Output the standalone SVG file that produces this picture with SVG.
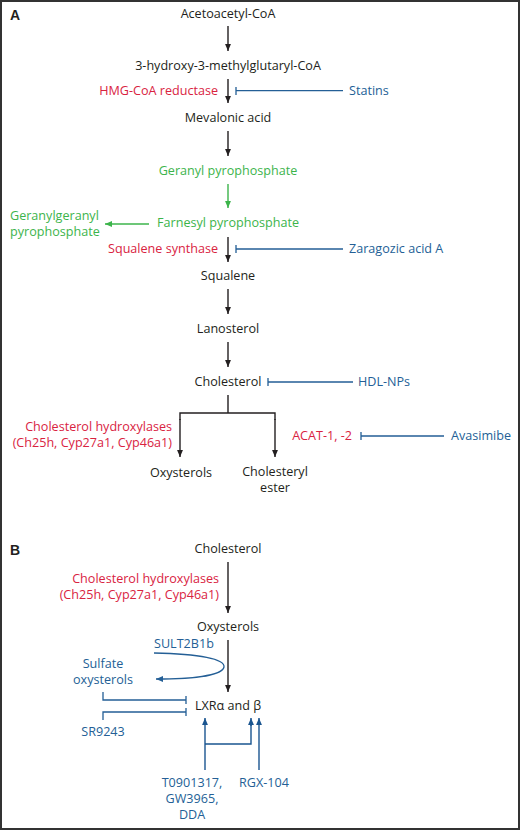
<svg xmlns="http://www.w3.org/2000/svg" width="520" height="830" viewBox="0 0 520 830">
<style>
text{font-family:"Open Sans","Liberation Sans",sans-serif;font-size:12.6px;fill:#231f20}
.c{text-anchor:middle}.e{text-anchor:end}
.r{fill:#d9233f}.g{fill:#3cb44b}.b{fill:#245f96}
.lbl{font-weight:bold;font-size:14px;font-family:"Liberation Sans",sans-serif}
.k{stroke:#231f20;stroke-width:1.4;fill:none}
.gl{stroke:#3cb44b;stroke-width:1.4;fill:none}
.bl{stroke:#245f96;stroke-width:1.3;fill:none}
.bd{stroke:#1a5590;stroke-width:1.4;fill:none}
</style>
<defs>
<marker id="ak" viewBox="0 0 10 10" refX="10" refY="5" markerWidth="7" markerHeight="7" markerUnits="userSpaceOnUse" orient="auto"><path d="M0,0.8L10,5L0,9.2z" fill="#231f20"/></marker>
<marker id="ag" viewBox="0 0 10 10" refX="10" refY="5" markerWidth="7" markerHeight="7" markerUnits="userSpaceOnUse" orient="auto"><path d="M0,0.8L10,5L0,9.2z" fill="#3cb44b"/></marker>
<marker id="ab" viewBox="0 0 10 10" refX="10" refY="5" markerWidth="7" markerHeight="7" markerUnits="userSpaceOnUse" orient="auto"><path d="M0,0.8L10,5L0,9.2z" fill="#245f96"/></marker>
<marker id="abd" viewBox="0 0 10 10" refX="10" refY="5" markerWidth="7" markerHeight="7" markerUnits="userSpaceOnUse" orient="auto"><path d="M0,0.8L10,5L0,9.2z" fill="#1a5590"/></marker>
</defs>
<rect x="1" y="1" width="518" height="828" fill="#fff" stroke="#333" stroke-width="2"/>
<text class="lbl" x="10" y="20">A</text>
<text class="lbl" x="10" y="555">B</text>

<g id="connectors">
<line class="k" x1="228" y1="26" x2="228" y2="51" marker-end="url(#ak)"/>
<line class="k" x1="228" y1="79" x2="228" y2="103" marker-end="url(#ak)"/>
<line class="k" x1="228" y1="131" x2="228" y2="156" marker-end="url(#ak)"/>
<line class="gl" x1="228" y1="184" x2="228" y2="208" marker-end="url(#ag)"/>
<line class="gl" x1="149" y1="224" x2="105" y2="224" marker-end="url(#ag)"/>
<line class="k" x1="228" y1="237" x2="228" y2="262" marker-end="url(#ak)"/>
<line class="k" x1="228" y1="289" x2="228" y2="314" marker-end="url(#ak)"/>
<line class="k" x1="228" y1="342" x2="228" y2="367" marker-end="url(#ak)"/>
<path class="k" d="M228,395V413M180,420V413H275V420"/>
<line class="k" x1="180" y1="419" x2="180" y2="457" marker-end="url(#ak)"/>
<line class="k" x1="275" y1="419" x2="275" y2="457" marker-end="url(#ak)"/>
<path class="bl" d="M343,90.7H236M236,87V95"/>
<path class="bl" d="M343,249H236M236,245V253"/>
<path class="bl" d="M353,382H268M268,378V386"/>
<path class="bl" d="M444,436H361M361,432V440"/>
<line class="k" x1="228" y1="562" x2="228" y2="613" marker-end="url(#ak)"/>
<line class="k" x1="228" y1="640" x2="228" y2="692" marker-end="url(#ak)"/>
<path class="bl" d="M154,653C200,654 225,659 224,667C222,676 190,679 156,679" marker-end="url(#ab)"/>
<path class="bl" d="M103,692V700H186M186,696V704"/>
<path class="bl" d="M103,720V712H186M186,708V716"/>
<line class="bd" x1="205" y1="770" x2="205" y2="718" marker-end="url(#abd)"/>
<path class="bd" d="M205,744H251V725"/>
<line class="bd" x1="251" y1="726" x2="251" y2="718" marker-end="url(#abd)"/>
<line class="bd" x1="259" y1="770" x2="259" y2="718" marker-end="url(#abd)"/>
</g>

<g id="acetoacetyl"><text class="c" x="228" y="18">Acetoacetyl-CoA</text></g>
<g id="hmgcoa"><text class="c" x="228" y="70">3-hydroxy-3-methylglutaryl-CoA</text></g>
<g id="hmgr"><text class="e r" x="218" y="95">HMG-CoA reductase</text></g>
<g id="statins"><text class="b" x="349" y="95">Statins</text></g>
<g id="mevalonic"><text class="c" x="228" y="122">Mevalonic acid</text></g>
<g id="gpp"><text class="c g" x="228" y="175">Geranyl pyrophosphate</text></g>
<g id="fpp"><text class="c g" x="228" y="227">Farnesyl pyrophosphate</text></g>
<g id="ggpp"><text class="g" x="10" y="220">Geranylgeranyl</text><text class="g" x="10" y="236">pyrophosphate</text></g>
<g id="sqs"><text class="e r" x="218" y="253">Squalene synthase</text></g>
<g id="zaragozic"><text class="b" x="349" y="253">Zaragozic acid A</text></g>
<g id="squalene"><text class="c" x="228" y="280">Squalene</text></g>
<g id="lanosterol"><text class="c" x="228" y="333">Lanosterol</text></g>
<g id="cholesterolA"><text class="c" x="228" y="386">Cholesterol</text></g>
<g id="hdlnps"><text class="b" x="358" y="386">HDL-NPs</text></g>
<g id="hydroxylasesA"><text class="e r" x="172" y="431">Cholesterol hydroxylases</text><text class="e r" x="172" y="447">(Ch25h, Cyp27a1, Cyp46a1)</text></g>
<g id="acat"><text class="e r" x="352" y="440">ACAT-1, -2</text></g>
<g id="avasimibe"><text class="b" x="451" y="440">Avasimibe</text></g>
<g id="oxysterolsA"><text class="c" x="181" y="477">Oxysterols</text></g>
<g id="ester"><text class="c" x="275" y="476">Cholesteryl</text><text class="c" x="275" y="492">ester</text></g>

<g id="cholesterolB"><text class="c" x="228" y="553">Cholesterol</text></g>
<g id="hydroxylasesB"><text class="e r" x="219" y="583">Cholesterol hydroxylases</text><text class="e r" x="219" y="599">(Ch25h, Cyp27a1, Cyp46a1)</text></g>
<g id="oxysterolsB"><text class="c" x="228" y="631">Oxysterols</text></g>
<g id="sult"><text class="b" x="154" y="648">SULT2B1b</text></g>
<g id="sulfate"><text class="c b" x="103" y="668">Sulfate</text><text class="c b" x="103" y="684">oxysterols</text></g>
<g id="lxr"><text class="c" x="228" y="710">LXRα and β</text></g>
<g id="sr9243"><text class="c b" x="103" y="736">SR9243</text></g>
<g id="agonists"><text class="c b" x="192" y="787">T0901317,</text><text class="c b" x="192" y="803">GW3965,</text><text class="c b" x="192" y="819">DDA</text></g>
<g id="rgx"><text class="c b" x="264" y="787">RGX-104</text></g>
</svg>
